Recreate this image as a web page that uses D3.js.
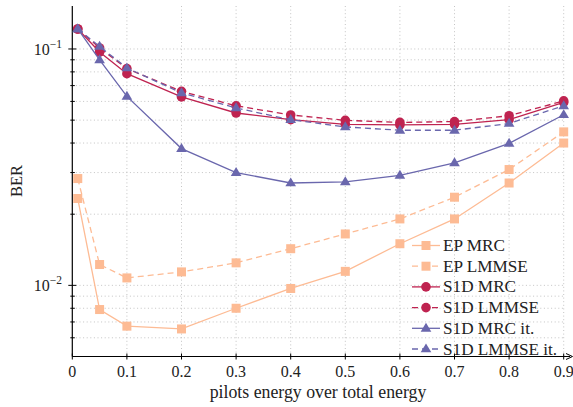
<!DOCTYPE html>
<html>
<head>
<meta charset="utf-8">
<script src="https://cdn.jsdelivr.net/npm/d3@7"></script>
<style>
  body { margin: 0; background: #fff; }
  text { font-family: "Liberation Serif", "DejaVu Serif", serif; fill: #222; }
</style>
</head>
<body>
<svg id="chart" width="573" height="407"></svg>
<script>
// x positions (pilots energy over total energy)
const xs = [0.01, 0.05, 0.1, 0.2, 0.3, 0.4, 0.5, 0.6, 0.7, 0.8, 0.9];

// BER values
const epMrc       = [0.0233, 0.0079, 0.00672, 0.00654, 0.0080, 0.0097, 0.01146, 0.0150, 0.0191, 0.0271, 0.0400];
const epLmmse     = [0.0283, 0.01225, 0.01075, 0.0114, 0.01245, 0.01429, 0.0165, 0.0191, 0.0236, 0.0309, 0.0446];
const s1dMrc      = [0.1215, 0.0971, 0.0786, 0.0627, 0.0536, 0.0502, 0.0480, 0.0477, 0.0480, 0.0502, 0.0594];
const s1dLmmse    = [0.1215, 0.1010, 0.0826, 0.0662, 0.0575, 0.0526, 0.0499, 0.0489, 0.0493, 0.0522, 0.0603];
const s1dMrcIt    = [0.1215, 0.0899, 0.0630, 0.0379, 0.0300, 0.0271, 0.0274, 0.0292, 0.0330, 0.0399, 0.0527];
const s1dLmmseIt  = [0.1215, 0.1025, 0.0831, 0.0652, 0.0563, 0.0502, 0.0468, 0.0453, 0.0453, 0.0484, 0.0575];

const xTicks = [0, 0.1, 0.2, 0.3, 0.4, 0.5, 0.6, 0.7, 0.8, 0.9];
const yMajor = [0.1, 0.01];

const orange = '#fdbb94', red = '#bf2350', blue = '#6a67ad';

const series = [
    { name: 'EP MRC',         values: epMrc,      color: orange, dash: null,  marker: 'square' },
    { name: 'EP LMMSE',       values: epLmmse,    color: orange, dash: '6,4', marker: 'square' },
    { name: 'S1D MRC',        values: s1dMrc,     color: red,    dash: null,  marker: 'circle' },
    { name: 'S1D LMMSE',      values: s1dLmmse,   color: red,    dash: '6,4', marker: 'circle' },
    { name: 'S1D MRC it.',    values: s1dMrcIt,   color: blue,   dash: null,  marker: 'triangle' },
    { name: 'S1D LMMSE it.',  values: s1dLmmseIt, color: blue,   dash: '6,4', marker: 'triangle' }
];

const svg = d3.select('#chart');

const mLeft = 72.3, mRight = 563.7, mTop = 6, mBottom = 356.5;

const x = d3.scaleLinear().domain([0, 0.9]).range([mLeft, mRight]);
const y = d3.scaleLog().domain([0.005, 0.152]).range([mBottom, mTop]);

// grid values 1..9 x 10^k inside the domain
let gridY = [];
for (let k = -3; k <= -1; k++) {
    for (let m = 1; m <= 9; m++) {
        let v = m * Math.pow(10, k);
        if (v > 0.0051 && v <= 0.152) gridY.push(v);
    }
}

const grid = svg.append('g');
grid.selectAll('.gy')
    .data(gridY)
    .enter()
    .append('line')
    .attr('x1', mLeft).attr('x2', mRight)
    .attr('y1', d => y(d)).attr('y2', d => y(d))
    .attr('stroke', '#b5b5b5')
    .attr('stroke-width', 0.8)
    .attr('stroke-dasharray', '1,2.6');

grid.selectAll('.gx')
    .data(xTicks.filter(d => d > 0))
    .enter()
    .append('line')
    .attr('x1', d => x(d)).attr('x2', d => x(d))
    .attr('y1', mTop).attr('y2', mBottom)
    .attr('stroke', '#b5b5b5')
    .attr('stroke-width', 0.8)
    .attr('stroke-dasharray', '1,2.6');

// axes
const axes = svg.append('g');
axes.append('line')
    .attr('x1', mLeft).attr('x2', mLeft)
    .attr('y1', mTop).attr('y2', mBottom)
    .attr('stroke', '#000').attr('stroke-width', 1.2);
axes.append('line')
    .attr('x1', mLeft).attr('x2', 570)
    .attr('y1', mBottom).attr('y2', mBottom)
    .attr('stroke', '#000').attr('stroke-width', 1.2);
axes.append('path')
    .attr('d', `M572.5,${mBottom} L566,${mBottom - 3} M572.5,${mBottom} L566,${mBottom + 3}`)
    .attr('stroke', '#000').attr('stroke-width', 1).attr('fill', 'none');

// y ticks
axes.selectAll('.ytick')
    .data(gridY)
    .enter()
    .append('line')
    .attr('x1', d => yMajor.includes(d) ? mLeft - 4 : mLeft - 2)
    .attr('x2', d => yMajor.includes(d) ? mLeft + 4 : mLeft + 2.5)
    .attr('y1', d => y(d)).attr('y2', d => y(d))
    .attr('stroke', '#000').attr('stroke-width', 1);

// x ticks
axes.selectAll('.xtick')
    .data(xTicks)
    .enter()
    .append('line')
    .attr('x1', d => x(d)).attr('x2', d => x(d))
    .attr('y1', mBottom - 3).attr('y2', mBottom + 3)
    .attr('stroke', '#000').attr('stroke-width', 1);

axes.selectAll('.xlabel')
    .data(xTicks)
    .enter()
    .append('text')
    .attr('x', d => x(d))
    .attr('y', 377)
    .attr('text-anchor', 'middle')
    .style('font-size', '16px')
    .text(d => d === 0 ? '0' : d3.format('.1f')(d));

const ylab = axes.selectAll('.ylabel')
    .data(yMajor)
    .enter()
    .append('text')
    .attr('x', 62)
    .attr('y', d => y(d) + 6)
    .attr('text-anchor', 'end')
    .style('font-size', '16px');
ylab.append('tspan').text('10');
ylab.append('tspan')
    .attr('dy', -7)
    .style('font-size', '11.5px')
    .text(d => '\u2212' + Math.round(-Math.log10(d)));

svg.append('text')
    .attr('x', 318)
    .attr('y', 398)
    .attr('text-anchor', 'middle')
    .style('font-size', '17.8px')
    .text('pilots energy over total energy');

svg.append('text')
    .attr('transform', 'translate(22,181) rotate(-90)')
    .attr('text-anchor', 'middle')
    .style('font-size', '16.5px')
    .text('BER');

// markers
function drawMarker(g, type, cx, cy, color) {
    if (type === 'square') {
        g.append('rect')
            .attr('x', cx - 4.5).attr('y', cy - 4.5)
            .attr('width', 9).attr('height', 9)
            .attr('fill', color);
    } else if (type === 'circle') {
        g.append('circle')
            .attr('cx', cx).attr('cy', cy).attr('r', 4.8)
            .attr('fill', color);
    } else {
        const s = 5.6;
        g.append('path')
            .attr('d', `M${cx},${cy - s} L${cx + s * 0.95},${cy + s * 0.6} L${cx - s * 0.95},${cy + s * 0.6} Z`)
            .attr('fill', color);
    }
}

const line = d3.line()
    .x(d => x(d[0]))
    .y(d => y(d[1]));

series.forEach((s) => {
    const pts = xs.map((v, i) => [v, s.values[i]]);
    const g = svg.append('g');
    g.append('path')
        .datum(pts)
        .attr('d', line)
        .attr('fill', 'none')
        .attr('stroke', s.color)
        .attr('stroke-width', 1.3)
        .attr('stroke-dasharray', s.dash);
    pts.forEach(p => drawMarker(g, s.marker, x(p[0]), y(p[1]), s.color));
});

// legend
const legend = svg.append('g');
series.forEach((s, i) => {
    const ly = 245.5 + i * 20.7;
    legend.append('line')
        .attr('x1', 412).attr('x2', 440)
        .attr('y1', ly).attr('y2', ly)
        .attr('stroke', s.color)
        .attr('stroke-width', 1.3)
        .attr('stroke-dasharray', s.dash);
    drawMarker(legend, s.marker, 426, ly, s.color);
    legend.append('text')
        .attr('x', 443)
        .attr('y', ly + 5.5)
        .style('font-size', '17.2px')
        .text(s.name);
});
</script>
</body>
</html>
